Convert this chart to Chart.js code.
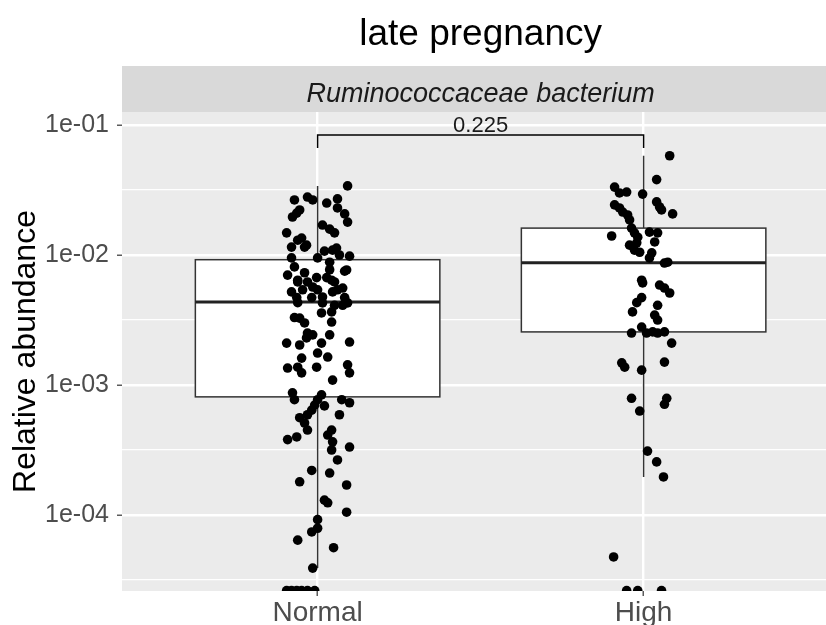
<!DOCTYPE html>
<html>
<head>
<meta charset="utf-8">
<script src="https://cdn.jsdelivr.net/npm/chart.js@4.4.0/dist/chart.umd.min.js"></script>
<style>
body { margin: 0; background: #ffffff; }
#wrap { width: 826px; height: 625px; }
</style>
</head>
<body>
<div id="wrap"><canvas id="boxChart" width="826" height="625"></canvas></div>
<script>
// groups on the x axis
var groups = ["Normal", "High"];

// jittered points (offset from group centre, relative abundance)
var normalJitter = [0.092, -0.071, -0.031, -0.015, 0.028, 0.061, 0.061, -0.055, -0.077, -0.064,
    0.083, 0.092, 0.015, 0.037, 0.052, -0.095, -0.049, -0.061, -0.080, -0.034,
    0.021, 0.058, 0.067, 0.098, 0.000, -0.080, 0.037, 0.083, -0.071, -0.040,
    -0.092, -0.003, -0.061, -0.031, 0.028, 0.052, -0.080, -0.046, 0.000, 0.046,
    -0.064, -0.018, 0.015, 0.061, 0.083, -0.061, 0.015, 0.052, 0.077, 0.092,
    -0.071, -0.055, -0.040, 0.012, 0.043, 0.043, -0.031, -0.015, -0.034, 0.037,
    -0.095, -0.055, 0.012, 0.098, 0.000, 0.031, -0.049, -0.092, -0.061, -0.049,
    -0.003, 0.092, 0.098, 0.046, -0.077, -0.071, 0.012, 0.000, -0.009, -0.018,
    -0.031, 0.074, 0.098, 0.021, 0.067, -0.055, -0.040, -0.031, -0.092, -0.064,
    0.043, 0.031, 0.046, 0.043, 0.098, 0.061, -0.018, -0.055, 0.037, 0.089,
    0.021, 0.031, 0.089, 0.000, 0.000, -0.018, -0.061, 0.049, -0.015,
    -0.095, -0.080, -0.064, -0.049, -0.031, -0.009,
    -0.015, 0.043, 0.089, 0.037, 0.046, -0.061, 0.077, -0.040];
var normalValues = [3.4e-2, 2.65e-2, 2.79e-2, 2.65e-2, 2.51e-2, 2.70e-2, 2.30e-2, 2.22e-2, 1.96e-2, 2.10e-2,
    2.07e-2, 1.79e-2, 1.70e-2, 1.58e-2, 1.48e-2, 1.48e-2, 1.35e-2, 1.30e-2, 1.15e-2, 1.19e-2,
    1.07e-2, 1.13e-2, 1.00e-2, 9.8e-3, 9.5e-3, 9.5e-3, 8.8e-3, 7.5e-3, 8.1e-3, 7.3e-3,
    7.0e-3, 6.7e-3, 6.2e-3, 6.2e-3, 6.7e-3, 6.2e-3, 5.2e-3, 5.4e-3, 5.4e-3, 5.2e-3,
    4.7e-3, 4.7e-3, 4.75e-3, 5.4e-3, 4.7e-3, 4.3e-3, 4.28e-3, 4.1e-3, 4.1e-3, 4.28e-3,
    3.3e-3, 3.27e-3, 3.0e-3, 3.58e-3, 3.65e-3, 3.05e-3, 2.51e-3, 2.43e-3, 2.30e-3, 2.43e-3,
    2.1e-3, 2.03e-3, 2.1e-3, 2.14e-3, 1.76e-3, 1.64e-3, 1.61e-3, 1.35e-3, 1.37e-3, 1.24e-3,
    1.37e-3, 1.43e-3, 1.24e-3, 1.09e-3, 8.7e-4, 7.7e-4, 8.4e-4, 7.7e-4, 7.0e-4, 6.4e-4,
    5.9e-4, 7.7e-4, 7.3e-4, 6.9e-4, 5.9e-4, 5.6e-4, 5.1e-4, 4.5e-4, 3.8e-4, 3.98e-4,
    4.5e-4, 4.12e-4, 3.65e-4, 3.16e-4, 3.33e-4, 2.65e-4, 2.2e-4, 1.8e-4, 2.1e-4, 1.7e-4,
    1.3e-4, 1.24e-4, 1.05e-4, 9.2e-5, 7.9e-5, 7.4e-5, 6.4e-5, 5.6e-5, 3.9e-5,
    2.62e-5, 2.62e-5, 2.62e-5, 2.62e-5, 2.62e-5, 2.62e-5,
    5.67e-3, 6.4e-3, 7.67e-3, 7.7e-3, 1.09e-2, 6.4e-3, 5.57e-3, 1.15e-2];

var highJitter = [0.080, 0.040, -0.089, -0.074, -0.052, -0.003, -0.089, -0.074, -0.064, -0.049,
    -0.043, 0.040, 0.049, 0.055, 0.089, -0.037, -0.028, -0.098, -0.018, -0.021,
    0.018, 0.043, 0.034, -0.043, -0.028, -0.012, 0.025, 0.018, 0.074, 0.064,
    -0.006, -0.003, 0.049, 0.064, 0.080, -0.006, -0.021, 0.043, -0.034, 0.034,
    0.043, -0.037, -0.006, 0.009, 0.028, 0.043, 0.064, 0.086, -0.067, -0.058,
    0.064, -0.006, -0.037, 0.071, 0.064, -0.012, 0.012, 0.040, 0.061, -0.092,
    -0.052, -0.018, 0.055];
var highValues = [5.8e-2, 3.8e-2, 3.33e-2, 3.0e-2, 3.05e-2, 2.94e-2, 2.43e-2, 2.30e-2, 2.14e-2, 2.03e-2,
    1.86e-2, 2.56e-2, 2.34e-2, 2.22e-2, 2.07e-2, 1.61e-2, 1.48e-2, 1.40e-2, 1.37e-2, 1.24e-2,
    1.50e-2, 1.48e-2, 1.26e-2, 1.19e-2, 1.09e-2, 1.05e-2, 1.04e-2, 9.5e-3, 8.8e-3, 8.67e-3,
    6.4e-3, 6.1e-3, 5.87e-3, 5.57e-3, 5.1e-3, 4.7e-3, 4.3e-3, 4.1e-3, 3.65e-3, 3.45e-3,
    3.16e-3, 2.51e-3, 2.79e-3, 2.51e-3, 2.56e-3, 2.51e-3, 2.56e-3, 2.1e-3, 1.48e-3, 1.37e-3,
    1.50e-3, 1.30e-3, 7.9e-4, 7.9e-4, 7.1e-4, 6.3e-4, 3.1e-4, 2.56e-4, 1.96e-4, 4.75e-5,
    2.62e-5, 2.62e-5, 2.62e-5];

// box plot summaries per group
var whiskerLow = [3.9e-5, 1.96e-4];
var quartile1 = [8.1e-4, 2.56e-3];
var medians = [4.35e-3, 8.7e-3];
var quartile3 = [9.2e-3, 1.61e-2];
var whiskerHigh = [3.4e-2, 5.8e-2];

// significance label
var pLabel = "0.225";

// y axis ticks
var yTickValues = [1e-4, 1e-3, 1e-2, 1e-1];
var yTickLabels = ["1e-04", "1e-03", "1e-02", "1e-01"];
var yMinorValues = [3.16e-5, 3.16e-4, 3.16e-3, 3.16e-2];

var FONT = '"Liberation Sans", Arial, sans-serif';

function makePoints(centre, jitter, values) {
    return values.map(function(v, i) {
        return { x: centre + jitter[i], y: v };
    });
}

var ggPlugin = {
    id: "ggPanel",
    beforeDraw: function(chart) {
        var ctx = chart.ctx;
        var a = chart.chartArea;
        var cx = chart.scales.x.getPixelForValue(1.5);
        ctx.save();
        ctx.fillStyle = "#ffffff";
        ctx.fillRect(0, 0, chart.width, chart.height);
        ctx.fillStyle = "#EBEBEB";
        ctx.fillRect(a.left, a.top, a.right - a.left, a.bottom - a.top);
        // facet strip
        ctx.fillStyle = "#D9D9D9";
        ctx.fillRect(a.left, 66, a.right - a.left, a.top - 66);
        ctx.fillStyle = "#1A1A1A";
        ctx.font = "italic 27px " + FONT;
        ctx.textAlign = "center";
        ctx.textBaseline = "alphabetic";
        ctx.fillText("Ruminococcaceae bacterium", cx, 102);
        // title
        ctx.fillStyle = "#000000";
        ctx.font = "37px " + FONT;
        ctx.fillText("late pregnancy", cx, 45);
        ctx.restore();
    },
    beforeDatasetsDraw: function(chart) {
        var ctx = chart.ctx;
        var xs = chart.scales.x;
        var ys = chart.scales.y;
        ctx.save();
        groups.forEach(function(g, i) {
            var c = i + 1;
            var xc = xs.getPixelForValue(c);
            var x0 = xs.getPixelForValue(c - 0.375);
            var x1 = xs.getPixelForValue(c + 0.375);
            var yq1 = ys.getPixelForValue(quartile1[i]);
            var yq3 = ys.getPixelForValue(quartile3[i]);
            var ymed = ys.getPixelForValue(medians[i]);
            ctx.strokeStyle = "#333333";
            ctx.lineWidth = 1.5;
            // whiskers
            ctx.beginPath();
            ctx.moveTo(xc, yq3);
            ctx.lineTo(xc, ys.getPixelForValue(whiskerHigh[i]));
            ctx.moveTo(xc, yq1);
            ctx.lineTo(xc, ys.getPixelForValue(whiskerLow[i]));
            ctx.stroke();
            // box
            ctx.fillStyle = "#ffffff";
            ctx.fillRect(x0, yq3, x1 - x0, yq1 - yq3);
            ctx.strokeRect(x0, yq3, x1 - x0, yq1 - yq3);
            // median
            ctx.strokeStyle = "#222222";
            ctx.lineWidth = 3;
            ctx.beginPath();
            ctx.moveTo(x0, ymed);
            ctx.lineTo(x1, ymed);
            ctx.stroke();
        });
        ctx.restore();
    },
    afterDatasetsDraw: function(chart) {
        var ctx = chart.ctx;
        var xs = chart.scales.x;
        var ys = chart.scales.y;
        var xa = xs.getPixelForValue(1);
        var xb = xs.getPixelForValue(2);
        var yTop = ys.getPixelForValue(0.0838);
        var yTip = ys.getPixelForValue(0.0665);
        ctx.save();
        ctx.strokeStyle = "#000000";
        ctx.lineWidth = 1.5;
        ctx.beginPath();
        ctx.moveTo(xa, yTip);
        ctx.lineTo(xa, yTop);
        ctx.lineTo(xb, yTop);
        ctx.lineTo(xb, yTip);
        ctx.stroke();
        ctx.fillStyle = "#1A1A1A";
        ctx.font = "22px " + FONT;
        ctx.textAlign = "center";
        ctx.textBaseline = "alphabetic";
        ctx.fillText(pLabel, (xa + xb) / 2, yTop - 3);
        ctx.restore();
    }
};

var ctxBox = document.getElementById("boxChart");

var boxChart = new Chart(ctxBox, {
    type: "scatter",
    data: {
        datasets: [
            {
                label: groups[0],
                data: makePoints(1, normalJitter, normalValues),
                backgroundColor: "#000000",
                borderWidth: 0,
                pointRadius: 4.8,
                clip: 0
            },
            {
                label: groups[1],
                data: makePoints(2, highJitter, highValues),
                backgroundColor: "#000000",
                borderWidth: 0,
                pointRadius: 4.8,
                clip: 0
            }
        ]
    },
    options: {
        responsive: false,
        animation: false,
        devicePixelRatio: 1,
        layout: { autoPadding: false, padding: { top: 112, left: 0, right: 0, bottom: 0 } },
        plugins: {
            legend: { display: false },
            tooltip: { enabled: false }
        },
        scales: {
            x: {
                type: "linear",
                min: 0.4,
                max: 2.5595,
                afterBuildTicks: function(scale) {
                    scale.ticks = [{ value: 1 }, { value: 2 }];
                },
                afterFit: function(scale) { scale.height = 34; },
                border: { display: false },
                grid: {
                    color: "#ffffff",
                    lineWidth: 2.4,
                    tickColor: "#333333",
                    tickWidth: 1.2,
                    tickLength: 5
                },
                ticks: {
                    autoSkip: false,
                    padding: 0,
                    color: "#4D4D4D",
                    font: { family: FONT, size: 28 },
                    callback: function(value) {
                        return groups[Math.round(value) - 1];
                    }
                }
            },
            y: {
                type: "logarithmic",
                min: 2.6e-5,
                max: 0.1259,
                afterBuildTicks: function(scale) {
                    var t = [];
                    yTickValues.forEach(function(v, i) {
                        t.push({ value: v, major: true });
                        t.push({ value: yMinorValues[i], major: false });
                    });
                    t.sort(function(p, q) { return p.value - q.value; });
                    scale.ticks = t;
                },
                afterFit: function(scale) { scale.width = 122; },
                border: { display: false },
                grid: {
                    color: "#ffffff",
                    lineWidth: function(c) { return c.tick && c.tick.major ? 2.4 : 1.2; },
                    tickColor: function(c) { return c.tick && c.tick.major ? "#333333" : "rgba(0,0,0,0)"; },
                    tickWidth: 1.2,
                    tickLength: 5
                },
                ticks: {
                    autoSkip: false,
                    padding: 8,
                    color: "#4D4D4D",
                    font: { family: FONT, size: 25 },
                    callback: function(value) {
                        for (var i = 0; i < yTickValues.length; i++) {
                            if (Math.abs(value / yTickValues[i] - 1) < 1e-6) {
                                return yTickLabels[i];
                            }
                        }
                        return "";
                    }
                },
                title: {
                    display: true,
                    text: "Relative abundance",
                    color: "#000000",
                    font: { family: FONT, size: 32 },
                    padding: { top: 7, bottom: 0 }
                }
            }
        }
    },
    plugins: [ggPlugin]
});
</script>
</body>
</html>
